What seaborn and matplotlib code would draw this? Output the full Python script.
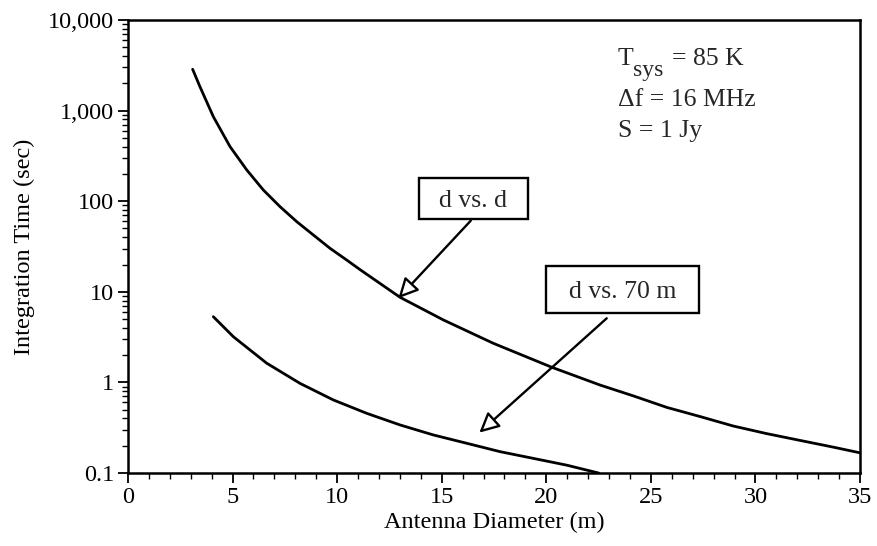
import numpy as np
import pandas as pd
import matplotlib
matplotlib.use("Agg")
import matplotlib.pyplot as plt
import seaborn as sns
from matplotlib.patches import Rectangle
from matplotlib.ticker import FixedLocator, LogLocator, NullFormatter, MultipleLocator

# ---- data ----
dd_diam = [3.09, 3.44, 4.08, 4.88, 5.68, 6.47, 7.27, 8.07, 8.86, 9.66, 10.46, 11.09,
           13.01, 15.08, 17.47, 20.26, 22.57, 24.16, 25.76, 27.35, 28.94, 30.54,
           32.13, 33.72, 35.0]
dd_time = [2860, 1837, 857, 400, 221, 133, 87, 59.4, 42.4, 30.2, 22.4, 17.6,
           8.69, 4.89, 2.70, 1.47, 0.935, 0.71, 0.53, 0.42, 0.33, 0.272,
           0.229, 0.193, 0.167]

d70_diam = [4.08, 5.04, 6.63, 8.22, 9.82, 11.41, 13.01, 14.60, 16.19, 17.79,
            19.38, 20.98, 22.5]
d70_time = [5.31, 3.19, 1.63, 0.977, 0.640, 0.456, 0.339, 0.263, 0.213, 0.172,
            0.145, 0.122, 0.100]

y_ticks = [0.1, 1, 10, 100, 1000, 10000]
y_tick_labels = ["0.1", "1", "10", "100", "1,000", "10,000"]
x_ticks = [0, 5, 10, 15, 20, 25, 30, 35]

df = pd.concat([
    pd.DataFrame({"diam": dd_diam, "time": dd_time, "series": "d vs. d"}),
    pd.DataFrame({"diam": d70_diam, "time": d70_time, "series": "d vs. 70 m"}),
])

sns.set_theme(style="ticks")
plt.rcParams["font.family"] = ["Liberation Serif", "DejaVu Serif"]

fig = plt.figure(figsize=(8.77, 5.46), dpi=100)
ax = fig.add_axes([128 / 877, 1 - 473 / 546, 732 / 877, 453 / 546])

for name in ["d vs. d", "d vs. 70 m"]:
    sub = df[df["series"] == name]
    sns.lineplot(data=sub, x="diam", y="time", ax=ax, color="black",
                 linewidth=2.0, legend=False, estimator=None, sort=False)

ax.set_yscale("log")
ax.set_xlim(0, 35)
ax.set_ylim(0.1, 10000)

ax.yaxis.set_major_locator(FixedLocator(y_ticks))
ax.set_yticklabels(y_tick_labels)
ax.yaxis.set_minor_locator(LogLocator(base=10, subs=np.arange(2, 10)))
ax.yaxis.set_minor_formatter(NullFormatter())
ax.xaxis.set_major_locator(FixedLocator(x_ticks))
ax.xaxis.set_minor_locator(MultipleLocator(1))

for sp in ax.spines.values():
    sp.set_color("black")
    sp.set_linewidth(1.8)

ax.tick_params(which="major", direction="out", length=7, width=1.3, colors="black",
               labelsize=17.5, pad=3)
ax.tick_params(which="minor", direction="out", length=4, width=1.0, colors="black")

ax.set_xlabel("Antenna Diameter (m)", fontsize=17.5, color="black", labelpad=3)
ax.set_ylabel("Integration Time (sec)", fontsize=17.5, color="black", labelpad=9)

# parameter text
fs = 18.5
ax.annotate("T", xy=(0.669, 0.9007), xycoords="axes fraction", fontsize=fs,
            ha="left", va="baseline")
ax.annotate("sys", xy=(0.669, 0.9007), xycoords="axes fraction", xytext=(15, -11),
            textcoords="offset pixels", fontsize=17, ha="left", va="baseline")
ax.annotate("= 85 K", xy=(0.669, 0.9007), xycoords="axes fraction", xytext=(54, 0),
            textcoords="offset pixels", fontsize=fs, ha="left", va="baseline")
ax.text(0.669, 0.810, "Δf = 16 MHz", transform=ax.transAxes, fontsize=fs,
        ha="left", va="baseline")
ax.text(0.669, 0.742, "S = 1 Jy", transform=ax.transAxes, fontsize=fs,
        ha="left", va="baseline")

# labelled boxes
for (x0, y0, x1, y1, label) in [(0.3975, 0.5607, 0.5464, 0.6512, "d vs. d"),
                                (0.571, 0.3532, 0.780, 0.457, "d vs. 70 m")]:
    ax.add_patch(Rectangle((x0, y0), x1 - x0, y1 - y0, transform=ax.transAxes,
                           fc="white", ec="black", lw=1.7, zorder=4))
    ax.text((x0 + x1) / 2, (y0 + y1) / 2, label, transform=ax.transAxes,
            fontsize=fs, ha="center", va="center_baseline", zorder=5)

arrow = dict(arrowstyle="-|>,head_length=1.0,head_width=0.5", fc="white",
             ec="black", lw=1.7, shrinkA=0, shrinkB=0)
ax.annotate("", xy=(12.93, 8.5), xytext=(16.39, 61), arrowprops=arrow)
ax.annotate("", xy=(16.8, 0.279), xytext=(22.89, 5.1), arrowprops=arrow)

fig.savefig("out.png", dpi=100)
